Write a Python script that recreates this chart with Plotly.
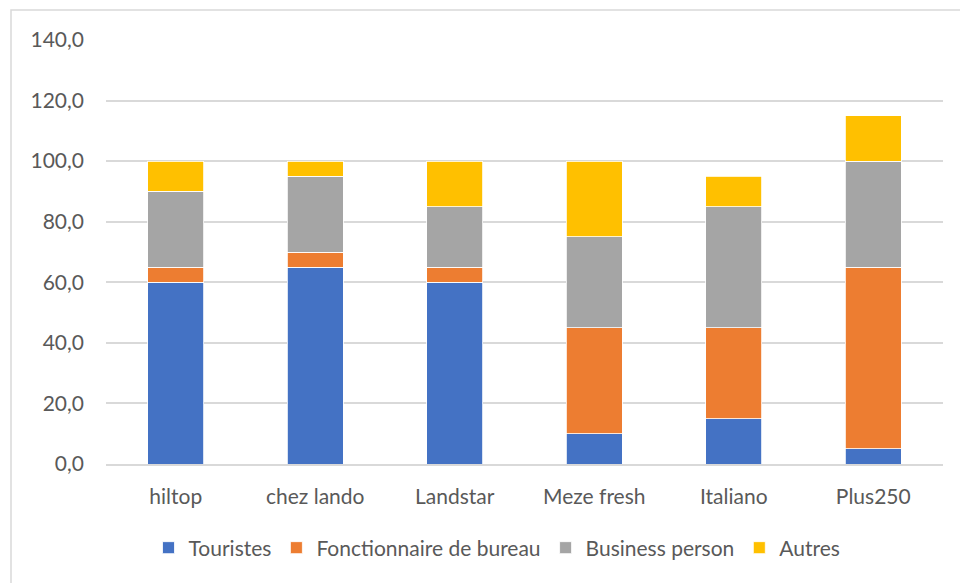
import plotly.graph_objects as go

categories = ["hiltop", "chez lando", "Landstar", "Meze fresh", "Italiano", "Plus250"]
touristes = [60, 65, 60, 10, 15, 5]
fonctionnaire = [5, 5, 5, 35, 30, 60]
business = [25, 25, 20, 30, 40, 35]
autres = [10, 5, 15, 25, 10, 15]
series_names = ["Touristes", "Fonctionnaire de bureau", "Business person", "Autres"]
colors = ["#4472C4", "#ED7D31", "#A5A5A5", "#FFC000"]
y_ticks = [0, 20, 40, 60, 80, 100, 120, 140]
y_tick_labels = ["0,0", "20,0", "40,0", "60,0", "80,0", "100,0", "120,0", "140,0"]

FONT = "Lato"
TXT = "#595959"
FS = 21

fig = go.Figure()
for name, vals, col in zip(series_names, [touristes, fonctionnaire, business, autres], colors):
    fig.add_trace(go.Bar(
        x=categories, y=vals, name=name,
        marker=dict(color=col, line=dict(color="white", width=0.8)),
    ))

L, R, T, B = 106, 17, 40, 119
W, H = 960, 583
pw, ph = W - L - R, H - T - B

def px(x):
    return (x - L) / pw

def py(y):
    return (H - B - y) / ph

fig.update_layout(
    width=W, height=H,
    margin=dict(l=L, r=R, t=T, b=B),
    barmode="stack",
    bargap=0.6,
    plot_bgcolor="white",
    paper_bgcolor="white",
    font=dict(family=FONT, size=FS, color=TXT),
    showlegend=True,
    legend=dict(
        orientation="h",
        x=px(497), xanchor="center",
        y=py(548), yanchor="middle",
        font=dict(family=FONT, size=FS, color=TXT),
        itemwidth=30,
        traceorder="normal",
    ),
    xaxis=dict(
        showgrid=False,
        showline=True, linecolor="#D9D9D9", linewidth=1.5,
        ticks="", ticklabelstandoff=13,
        tickfont=dict(family=FONT, size=FS, color=TXT),
    ),
    yaxis=dict(
        range=[0, 140],
        tickvals=y_ticks, ticktext=y_tick_labels,
        showgrid=True, gridcolor="#D9D9D9", gridwidth=1.5,
        zeroline=False, showline=False,
        ticks="", ticklabelstandoff=21,
        tickfont=dict(family=FONT, size=FS, color=TXT),
    ),
    shapes=[dict(
        type="rect", xref="paper", yref="paper",
        x0=px(11), x1=px(975), y0=py(600), y1=py(10),
        line=dict(color="#D9D9D9", width=1.5), fillcolor="rgba(0,0,0,0)",
        layer="below",
    )],
)

fig.write_html("out.html")
